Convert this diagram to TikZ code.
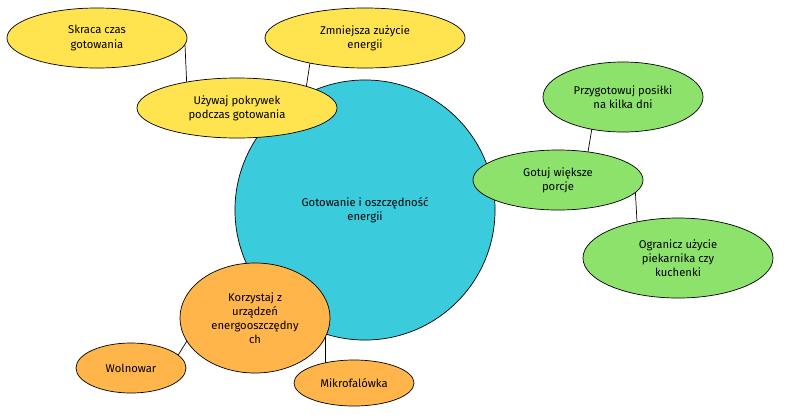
\documentclass[tikz,border=0pt]{standalone}
\usepackage{fontspec}
\setmainfont{Fira Sans}
\usetikzlibrary{backgrounds,shapes.geometric}
\definecolor{cy}{HTML}{3ACCDC}
\definecolor{ye}{HTML}{FFE34F}
\definecolor{gr}{HTML}{8DE26B}
\definecolor{or}{HTML}{FFB549}
\begin{document}
\begin{tikzpicture}[x=0.025cm,y=-0.025cm,
 bub/.style={ellipse,draw=black,line width=0.5pt,align=center,inner sep=0pt,font=\fontsize{8}{10}\selectfont},
 e/.style={draw=black,line width=0.5pt}]
\useasboundingbox (0,0) rectangle (800,416);
\node[bub,fill=cy,circle,minimum size=6.5cm] (c) at (365,210) {Gotowanie i oszczędność\\energii};
\node[bub,fill=ye,minimum width=4.5cm,minimum height=1.5cm] (s) at (97,38) {Skraca czas\\gotowania};
\node[bub,fill=ye,minimum width=5cm,minimum height=1.5cm] (z) at (365,38) {Zmniejsza zużycie\\energii};
\node[bub,fill=ye,minimum width=5cm,minimum height=1.5cm] (u) at (237,108) {Używaj pokrywek\\podczas gotowania};
\node[bub,fill=gr,minimum width=4cm,minimum height=1.75cm] (p) at (623,97) {Przygotowuj posiłki\\na kilka dni};
\node[bub,fill=gr,minimum width=4.25cm,minimum height=1.5cm] (g) at (558,180) {Gotuj większe\\porcje};
\node[bub,fill=gr,minimum width=4.75cm,minimum height=2cm] (o) at (678,258) {Ogranicz użycie\\piekarnika czy\\kuchenki};
\node[bub,fill=or,minimum width=3.75cm,minimum height=2.75cm] (k) at (255,318) {Korzystaj z\\urządzeń\\energooszczędny\\ch};
\node[bub,fill=or,minimum width=2.75cm,minimum height=1.25cm] (w) at (131,368) {Wolnowar};
\node[bub,fill=or,minimum width=3cm,minimum height=1.15cm] (m) at (354,383) {Mikrofalówka};
\begin{scope}[on background layer]
\coordinate (s1) at (185,45); \coordinate (u1) at (187,90);
\coordinate (z1) at (312,50); \coordinate (u2) at (305,95);
\coordinate (p1) at (595,110); \coordinate (g1) at (585,170);
\coordinate (g2) at (635,185); \coordinate (o1) at (638,240);
\coordinate (k1) at (200,320); \coordinate (w1) at (172,365);
\coordinate (k2) at (325,320); \coordinate (m1) at (325,378);
\draw[e] (s1) -- (u1);
\draw[e] (z1) -- (u2);
\draw[e] (p1) -- (g1);
\draw[e] (g2) -- (o1);
\draw[e] (k1) -- (w1);
\draw[e] (k2) -- (m1);
\end{scope}
\end{tikzpicture}
\end{document}
